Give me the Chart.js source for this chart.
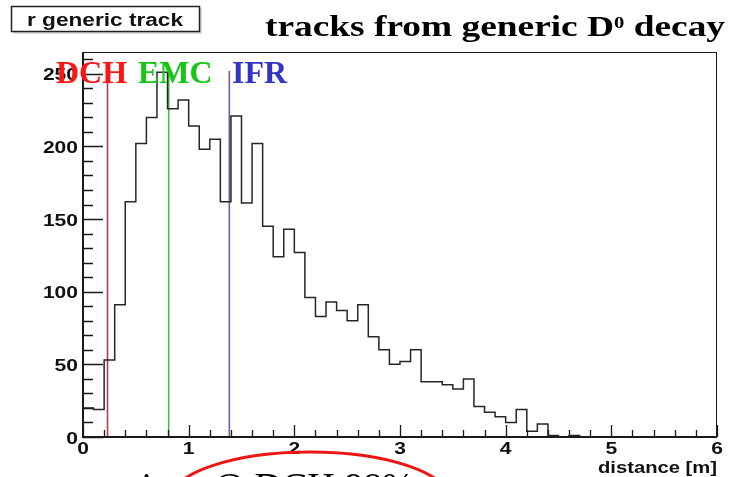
<!DOCTYPE html>
<html>
<head>
<meta charset="utf-8">
<script src="https://cdn.jsdelivr.net/npm/chart.js@4.4.1/dist/chart.umd.min.js"></script>
<style>
  html, body { margin: 0; padding: 0; background: #fff; }
  canvas { display: block; }
</style>
</head>
<body>
<canvas id="rChart" width="730" height="477"></canvas>
<script>
// r of generic D0 decay tracks, 0.1 m bins from 0 to 6 m
const binLow = 0;
const binWidth = 0.1;
const counts = [
  20, 19, 53, 91, 162, 202, 220, 251, 226, 232,
  214, 198, 205, 162, 221, 161, 202, 145, 124, 143,
  127, 96, 83, 93, 87, 80, 91, 69, 60, 50,
  52, 60, 38, 38, 36, 33, 40, 21, 17, 14,
  10, 19, 4, 9, 1, 0, 1, 0, 0, 0,
  0, 0, 0, 0, 0, 0, 0, 0, 0, 0,
];

// detector boundaries [m]
const detectors = ["DCH", "EMC", "IFR"];
const detectorR = [0.232, 0.811, 1.385];
const detectorColors = ["#a8404e", "#3cc43c", "#6c5c96"];
const detectorTextColors = ["#ff1414", "#14c814", "#3434c4"];
const detectorLineTop = 252;

const xTicks = [0, 1, 2, 3, 4, 5, 6];
const yTicks = [0, 50, 100, 150, 200, 250];
const xMinorStep = 0.2;
const yMinorStep = 10;
const xMax = 6;
const yMax = 265;

// histogram outline: one point per bin low edge, plus closing edge
const histPoints = [{ x: binLow, y: 0 }];
counts.forEach((c, i) => histPoints.push({ x: binLow + i * binWidth, y: c }));
histPoints.push({ x: binLow + counts.length * binWidth, y: 0 });

const detectorSets = detectors.map((name, i) => ({
  label: name,
  data: [
    { x: detectorR[i], y: 0 },
    { x: detectorR[i], y: detectorLineTop },
  ],
  borderColor: detectorColors[i],
  borderWidth: 1.6,
  pointRadius: 0,
  fill: false,
}));

// text squeezed/stretched horizontally to a given width
function wideText(ctx, str, x, y, font, width, align) {
  ctx.font = font;
  const w = ctx.measureText(str).width;
  const s = width ? width / w : 1;
  ctx.save();
  ctx.translate(x, y);
  ctx.scale(s, 1);
  ctx.textAlign = align || "left";
  ctx.fillText(str, 0, 0);
  ctx.restore();
}

const rootFrame = {
  id: "rootFrame",
  afterDraw(chart) {
    const ctx = chart.ctx;
    const xs = chart.scales.x;
    const ys = chart.scales.y;
    const a = chart.chartArea;
    const axisFont = "bold 17px 'Liberation Sans', Arial, sans-serif";

    ctx.save();
    // frame
    ctx.strokeStyle = "#1a1a1a";
    ctx.lineWidth = 1;
    ctx.strokeRect(a.left + 0.5, a.top + 0.5, a.right - a.left - 1, a.bottom - a.top);
    ctx.lineWidth = 2;
    ctx.beginPath();
    ctx.moveTo(a.left, a.top);
    ctx.lineTo(a.left, a.bottom);
    ctx.lineTo(a.right, a.bottom);
    ctx.stroke();

    // ticks, drawn inward
    ctx.lineWidth = 1.3;
    ctx.beginPath();
    for (let v = 0; v <= yMax + 1e-6; v += yMinorStep) {
      const py = Math.round(ys.getPixelForValue(v)) + 0.5;
      const len = v % 50 === 0 ? 20 : 10;
      ctx.moveTo(a.left, py);
      ctx.lineTo(a.left + len, py);
    }
    for (let i = 0; i * xMinorStep <= xMax + 1e-6; i++) {
      const v = i * xMinorStep;
      const px = Math.round(xs.getPixelForValue(v)) + 0.5;
      const len = i % 5 === 0 ? 12 : 7;
      ctx.moveTo(px, a.bottom);
      ctx.lineTo(px, a.bottom - len);
    }
    ctx.stroke();

    // tick labels
    ctx.fillStyle = "#111";
    ctx.textBaseline = "middle";
    yTicks.forEach((v) => {
      const str = String(v);
      const py = ys.getPixelForValue(v) + 2;
      wideText(ctx, str, a.left - 5, py, axisFont, str.length * 11.7, "right");
    });
    xTicks.forEach((v) => {
      const px = xs.getPixelForValue(v);
      wideText(ctx, String(v), px, a.bottom + 12, axisFont, 11.7, "center");
    });
    ctx.textBaseline = "alphabetic";
    wideText(ctx, "distance [m]", a.right, a.bottom + 36, "bold 16px 'Liberation Sans', Arial, sans-serif", 119, "right");

    // histogram name box
    ctx.fillStyle = "#d8d8d8";
    ctx.fillRect(13, 8, 189, 26);
    ctx.fillStyle = "#fff";
    ctx.fillRect(11, 6, 189, 26);
    ctx.strokeStyle = "#222";
    ctx.lineWidth = 1.5;
    ctx.strokeRect(11.5, 6.5, 188, 25);
    ctx.fillStyle = "#111";
    wideText(ctx, "r generic track", 27, 26, "bold 18px 'Liberation Sans', Arial, sans-serif", 156, "left");

    // title
    ctx.fillStyle = "#000";
    ctx.font = "bold 29px 'Liberation Serif', 'Times New Roman', serif";
    const t1 = "tracks from generic D";
    const t3 = " decay";
    const w1 = ctx.measureText(t1).width;
    const w3 = ctx.measureText(t3).width;
    ctx.font = "bold 16px 'Liberation Serif', 'Times New Roman', serif";
    const w2 = ctx.measureText("0").width;
    const s = 460 / (w1 + w2 + w3);
    ctx.save();
    ctx.translate(265, 36);
    ctx.scale(s, 1);
    ctx.textAlign = "left";
    ctx.font = "bold 29px 'Liberation Serif', 'Times New Roman', serif";
    ctx.fillText(t1, 0, 0);
    ctx.font = "bold 16px 'Liberation Serif', 'Times New Roman', serif";
    ctx.fillText("0", w1, -8);
    ctx.font = "bold 29px 'Liberation Serif', 'Times New Roman', serif";
    ctx.fillText(t3, w1 + w2, 0);
    ctx.restore();

    // detector names
    const labelX = [56, 138, 232];
    ctx.font = "bold 32px 'Liberation Serif', 'Times New Roman', serif";
    ctx.textAlign = "left";
    detectors.forEach((name, i) => {
      ctx.fillStyle = detectorTextColors[i];
      ctx.fillText(name, labelX[i], 83);
    });

    // slide text below the plot, cut by the page edge
    ctx.font = "38px 'Liberation Serif', 'Times New Roman', serif";
    ctx.fillStyle = "#000";
    const pre = "vertices ";
    const x0 = 210 - ctx.measureText(pre).width;
    ctx.fillText(pre + "@ DCH 98%", x0, 499);

    ctx.strokeStyle = "#ee1515";
    ctx.lineWidth = 3;
    ctx.beginPath();
    ctx.ellipse(310, 500, 140, 48, 0, 0, Math.PI * 2);
    ctx.stroke();
    ctx.restore();
  },
};

new Chart(document.getElementById("rChart").getContext("2d"), {
  type: "line",
  data: {
    datasets: [
      {
        label: "r generic track",
        data: histPoints,
        stepped: "before",
        borderColor: "#262626",
        borderWidth: 1.5,
        pointRadius: 0,
        fill: false,
      },
      ...detectorSets,
    ],
  },
  options: {
    responsive: false,
    animation: false,
    devicePixelRatio: 1,
    layout: { padding: { left: 83, right: 13, top: 52, bottom: 40 } },
    plugins: {
      legend: { display: false },
      tooltip: { enabled: false },
    },
    scales: {
      x: { type: "linear", min: 0, max: xMax, display: false },
      y: { type: "linear", min: 0, max: yMax, display: false },
    },
  },
  plugins: [rootFrame],
});
</script>
</body>
</html>
